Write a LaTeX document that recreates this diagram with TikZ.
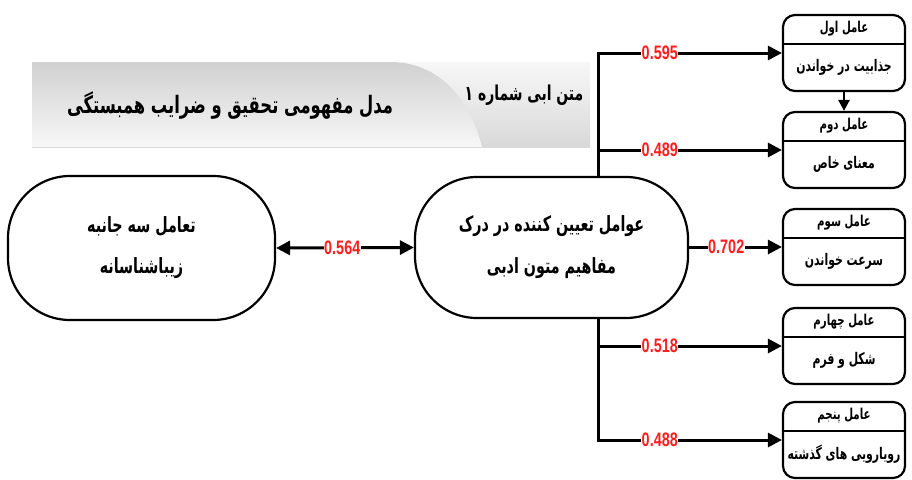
\documentclass[tikz,border=0pt]{standalone}
\usepackage{fontspec}
\setmainfont{Liberation Sans}
\newfontfamily\fa[Script=Arabic,FakeStretch=0.68]{DejaVu Sans}
\newfontfamily\numf[FakeStretch=0.74]{Liberation Sans}
\TeXXeTstate=1
\usetikzlibrary{arrows.meta,calc}
\definecolor{lblred}{HTML}{FF1E1E}
\begin{document}
\begin{tikzpicture}[x=1pt,y=-1pt,
  conn/.style={line width=3pt},
  arr/.style={conn,-{Triangle[length=14pt,width=14pt]}},
  darr/.style={conn,{Triangle[length=14pt,width=14pt]}-{Triangle[length=14pt,width=14pt]}},
  lbl/.style={fill=white,text=lblred,font=\numf\bfseries\fontsize{19.5}{19.5}\selectfont,inner sep=0.6pt},
  bignode/.style={draw,line width=2.2pt,rounded corners=62pt,fill=white,align=center,inner sep=0pt,
     font=\fa\bfseries\fontsize{21}{21}\selectfont},
  fbox/.style={draw,line width=2.2pt,rounded corners=12pt,minimum width=122pt,minimum height=76pt,fill=white,inner sep=0pt},
  ftitle/.style={font=\fa\bfseries\fontsize{15}{15}\selectfont,inner sep=0pt},
  ftext/.style={font=\fa\bfseries\fontsize{16}{16}\selectfont,inner sep=0pt},
  banner/.style={font=\fa\bfseries\fontsize{24}{24}\selectfont,inner sep=0pt},
]
\fill[white] (0,0) rectangle (912,479);
\useasboundingbox (0,0) rectangle (912,479);

% banner
\shade[top color=white!97!black, bottom color=white!85!black] (32,62) rectangle (590,147);
\shade[top color=white!82!black, bottom color=white!97!black]
  (32,62) -- (390,62) .. controls (440,62) and (470,100) .. (482,147) -- (32,147) -- cycle;
\node[banner] (title) at (230,106) {\beginR مدل مفهومی تحقیق و ضرایب همبستگی\endR};
\node[banner,font=\fa\bfseries\fontsize{20.5}{20.5}\selectfont] (sub) at (524,95) {\beginR متن ابی شماره ۱\endR};

% trunk coordinate
\coordinate (tr) at (598,0);

% right boxes
\node[fbox] (b1) at (844,53) {};
\node[fbox] (b2) at (844,150) {};
\node[fbox] (b3) at (844,247) {};
\node[fbox] (b4) at (844,346) {};
\node[fbox] (b5) at (844,440) {};
\foreach \b/\t/\c in {b1/عامل اول/جذابیت در خواندن,
                      b2/عامل دوم/معنای خاص,
                      b3/عامل سوم/سرعت خواندن,
                      b4/عامل چهارم/شکل و فرم,
                      b5/عامل پنجم/رویارویی های گذشته}{
  \draw[line width=1.8pt] ($(\b.north west)+(0,30)$) -- ($(\b.north east)+(0,30)$);
  \node[ftitle] (\b t) at ($(\b.north)+(0,15)$) {\beginR \t\endR};
  \node[ftext] (\b c) at ($(\b.north)+(0,53)$) {\beginR \c\endR};
}

\draw[conn,line width=2.4pt,-{Triangle[length=11pt,width=11pt]}] (b1.south) -- (b2.north);

\node[bignode,minimum width=267pt,minimum height=144pt] (left) at (141.5,248)
  {\beginR تعامل سه جانبه\endR\\[20pt]\beginR زیباشناسانه\endR};
\node[bignode,minimum width=273pt,minimum height=141pt] (cen) at (551.5,247.5)
  {\beginR عوامل تعیین کننده در درک\endR\\[20pt]\beginR مفاهیم متون ادبی\endR};

\draw[arr] (cen.north -| tr) |- node[lbl,pos=0.668]{0.595} (b1.west);
\draw[arr] (cen.north -| tr) |- node[lbl,pos=0.668]{0.489} (b2.west);
\draw[arr] (cen.east |- b3.west) -- node[lbl,pos=0.4]{0.702} (b3.west);
\draw[arr] (cen.south -| tr) |- node[lbl,pos=0.668]{0.518} (b4.west);
\draw[arr] (cen.south -| tr) |- node[lbl,pos=0.668]{0.488} (b5.west);
\draw[darr] (left.east) -- node[lbl,pos=0.48]{0.564} (cen.west);
\end{tikzpicture}
\end{document}
